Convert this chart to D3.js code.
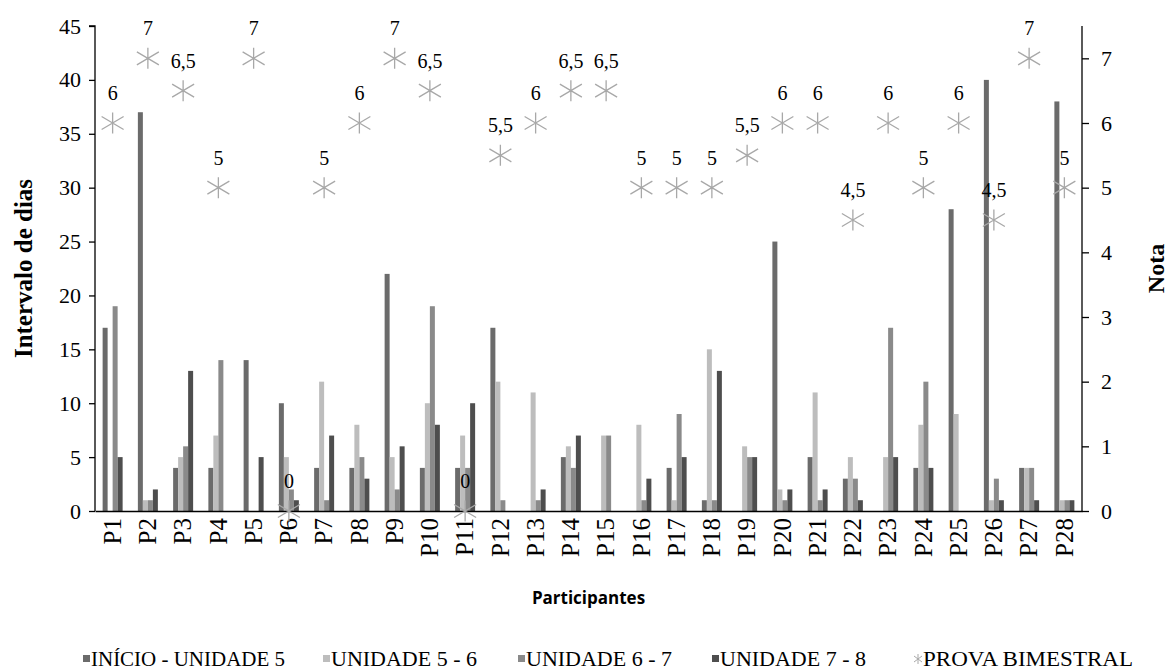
<!DOCTYPE html>
<html>
<head>
<meta charset="utf-8">
<script src="https://cdn.jsdelivr.net/npm/d3@7"></script>
<style>
	body { margin: 0; background: #fff; }
</style>
</head>
<body>
<div id="chart"></div>
<script>
var participants = ["P1","P2","P3","P4","P5","P6","P7","P8","P9","P10","P11","P12","P13","P14",
	"P15","P16","P17","P18","P19","P20","P21","P22","P23","P24","P25","P26","P27","P28"];
var seriesNames = ["INÍCIO - UNIDADE 5", "UNIDADE 5 - 6", "UNIDADE 6 - 7", "UNIDADE 7 - 8"];
var inicioU5 = [17,37,4,4,14,10,4,4,22,4,4,17,0,5,0,0,4,1,0,25,5,3,0,4,28,40,4,38];
var unid56   = [0,1,5,7,0,5,12,8,5,10,7,12,11,6,7,8,1,15,6,2,11,5,5,8,9,1,4,1];
var unid67   = [19,1,6,14,0,2,1,5,2,19,4,1,1,4,7,1,9,1,5,1,1,3,17,12,0,3,4,1];
var unid78   = [5,2,13,0,5,1,7,3,6,8,10,0,2,7,0,3,5,13,5,2,2,1,5,4,0,1,1,1];
var prova    = [6,7,6.5,5,7,0,5,6,7,6.5,0,5.5,6,6.5,6.5,5,5,5,5.5,6,6,4.5,6,5,6,4.5,7,5];
var leftTicks = [0,5,10,15,20,25,30,35,40,45];
var rightTicks = [0,1,2,3,4,5,6,7];

var width = 1171, height = 670;
var margin = {top: 26, right: 89, bottom: 159, left: 95};
var colors = ["#6b6b6b", "#bdbdbd", "#8a8a8a", "#4e4e4e"];
var starColor = "#a8a8a8";
var serif = "'Liberation Serif', 'DejaVu Serif', serif";

var svg = d3.select("#chart").append("svg")
	.attr("width", width)
	.attr("height", height);

var x = d3.scaleBand()
	.domain(participants)
	.range([margin.left, width-margin.right]);
var xs = d3.scaleBand()
	.domain(d3.range(4))
	.range([0, 20]);
var y = d3.scaleLinear()
	.domain([0, 45])
	.range([height-margin.bottom, margin.top]);
var y2 = d3.scaleLinear()
	.domain([0, 7.5])
	.range([height-margin.bottom, margin.top]);

var allSeries = [inicioU5, unid56, unid67, unid78];

// bars
allSeries.forEach(function(vals, s) {
	svg.append("g").selectAll("rect")
		.data(vals)
		.enter().append("rect")
		.attr("x", function(d, i) { return x(participants[i]) + (x.bandwidth()-20)/2 + xs(s); })
		.attr("y", function(d) { return y(d); })
		.attr("width", xs.bandwidth())
		.attr("height", function(d) { return y(0)-y(d); })
		.attr("fill", colors[s]);
});

// axes
var yAxis = d3.axisLeft(y).tickValues(leftTicks).tickSize(6).tickPadding(8);
var gy = svg.append("g")
	.attr("transform", "translate("+margin.left+",0)")
	.call(yAxis);
var y2Axis = d3.axisRight(y2).tickValues(rightTicks).tickSize(7).tickPadding(12);
var gy2 = svg.append("g")
	.attr("transform", "translate("+(width-margin.right)+",0)")
	.call(y2Axis);
var xAxis = d3.axisBottom(x).tickSize(0).tickPadding(0);
var gx = svg.append("g")
	.attr("transform", "translate(0,"+(height-margin.bottom)+")")
	.call(xAxis);

[gy, gy2, gx].forEach(function(g) {
	g.attr("font-family", serif);
	g.select(".domain").attr("stroke", "#000").attr("stroke-width", 1.3);
	g.selectAll(".tick line").attr("stroke", "#000").attr("stroke-width", 1.3);
	g.selectAll("text")
		.style("font-family", serif)
		.style("font-size", "22px")
		.attr("fill", "#000");
});
gy2.select(".domain").attr("d", "M0,"+y2(0)+"V"+y2(7.5));
gy.select(".domain").attr("d", "M-6,"+y(45)+"H0V"+y(0));

gx.selectAll(".tick text")
	.style("font-size", "25px")
	.attr("transform", "rotate(-90)")
	.attr("text-anchor", "end")
	.attr("x", -7)
	.attr("y", 0)
	.attr("dy", "0.33em");

// star markers
var stars = svg.append("g").selectAll("g")
	.data(prova)
	.enter().append("g")
	.attr("transform", function(d, i) {
		return "translate("+(x(participants[i]) + x.bandwidth()/2)+","+y2(d)+")";
	});
stars.append("path")
	.attr("d", "M0,-10.5V10.5M-11,-6.5L11,6.5M-11,6.5L11,-6.5")
	.attr("stroke", starColor)
	.attr("stroke-width", 1.3)
	.attr("fill", "none");

svg.append("g").selectAll("text")
	.data(prova)
	.enter().append("text")
	.attr("x", function(d, i) { return x(participants[i]) + x.bandwidth()/2; })
	.attr("y", function(d) { return y2(d) - 23; })
	.attr("text-anchor", "middle")
	.style("font-family", serif)
	.style("font-size", "20px")
	.text(function(d) { return String(d).replace(".", ","); });

// axis titles
svg.append("text")
	.text("Intervalo de dias")
	.attr("transform", "translate(32,"+((y(0)+y(45))/2)+") rotate(-90)")
	.attr("text-anchor", "middle")
	.style("font-family", serif)
	.style("font-size", "25px")
	.style("font-weight", "bold");

svg.append("text")
	.text("Nota")
	.attr("transform", "translate(1164,"+((y(0)+y(45))/2)+") rotate(-90)")
	.attr("text-anchor", "middle")
	.style("font-family", serif)
	.style("font-size", "24px")
	.style("font-weight", "bold");

svg.append("text")
	.text("Participantes")
	.attr("x", (margin.left + width - margin.right)/2)
	.attr("y", 604)
	.attr("text-anchor", "middle")
	.style("font-family", "'Open Sans', sans-serif")
	.style("font-size", "17px")
	.style("font-weight", "bold");

// legend
var legendX = [83, 323, 518, 712];
var legendW = [194, 146, 146, 146];
seriesNames.forEach(function(name, s) {
	svg.append("rect")
		.attr("x", legendX[s])
		.attr("y", 655)
		.attr("width", 7)
		.attr("height", 7)
		.attr("fill", colors[s]);
	svg.append("text")
		.attr("x", legendX[s] + 8)
		.attr("y", 666)
		.style("font-family", serif)
		.style("font-size", "20px")
		.attr("textLength", legendW[s])
		.attr("lengthAdjust", "spacingAndGlyphs")
		.text(name);
});
svg.append("path")
	.attr("transform", "translate(918,659)")
	.attr("d", "M0,-5V5M-4,-3L4,3M-4,3L4,-3")
	.attr("stroke", starColor)
	.attr("stroke-width", 1)
	.attr("fill", "none");
svg.append("text")
	.attr("x", 923)
	.attr("y", 666)
	.style("font-family", serif)
	.style("font-size", "20px")
	.attr("textLength", 210)
	.attr("lengthAdjust", "spacingAndGlyphs")
	.text("PROVA BIMESTRAL");
</script>
</body>
</html>
